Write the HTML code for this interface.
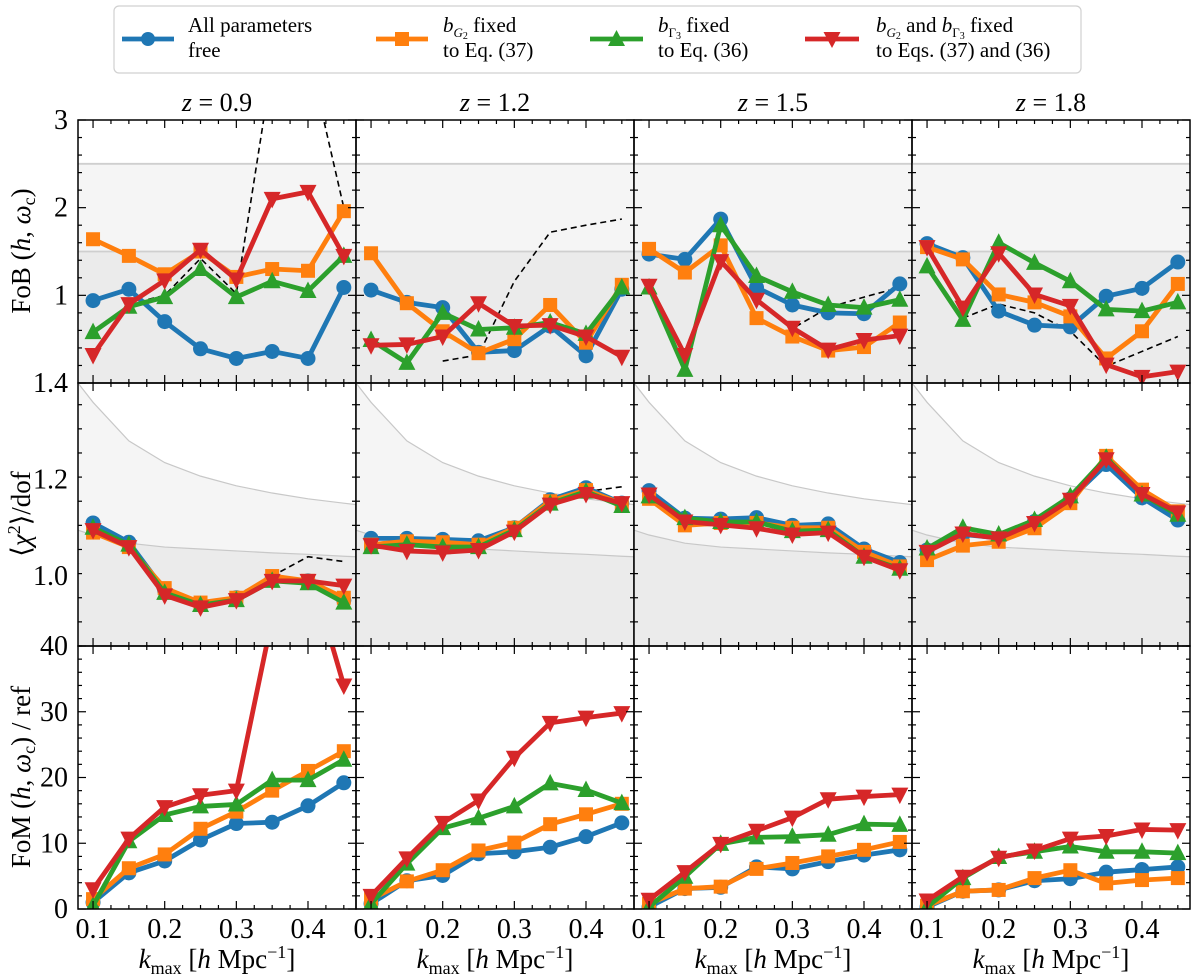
<!DOCTYPE html>
<html><head><meta charset="utf-8"><style>
html,body{margin:0;padding:0;background:#fff}
svg{display:block;font-family:"Liberation Serif",serif}
</style></head><body>
<svg id="chart" width="1200" height="976" viewBox="0 0 1200 976" xmlns="http://www.w3.org/2000/svg"></svg>
<script>
const kmax=[0.1,0.15,0.2,0.25,0.3,0.35,0.4,0.45];
const redshifts=["0.9","1.2","1.5","1.8"];
// FoB(h, omega_c) per redshift
const fobBlue=[[0.94,1.07,0.70,0.39,0.28,0.36,0.28,1.09],[1.06,0.92,0.86,0.35,0.37,0.65,0.31,1.07],[1.47,1.41,1.87,1.09,0.89,0.80,0.79,1.13],[1.59,1.43,0.82,0.66,0.64,0.99,1.08,1.38]];
const fobOrange=[[1.64,1.45,1.24,1.50,1.21,1.30,1.28,1.96],[1.48,0.91,0.59,0.34,0.50,0.89,0.46,1.12],[1.53,1.26,1.57,0.74,0.53,0.37,0.41,0.69],[1.55,1.41,1.01,0.92,0.76,0.28,0.59,1.13]];
const fobGreen=[[0.58,0.87,0.98,1.30,0.98,1.16,1.05,1.45],[0.49,0.23,0.80,0.61,0.63,0.69,0.56,1.09],[1.09,0.15,1.80,1.22,1.04,0.89,0.86,0.95],[1.33,0.72,1.60,1.37,1.16,0.84,0.82,0.92]];
const fobRed=[[0.32,0.90,1.17,1.52,1.18,2.10,2.18,1.45],[0.43,0.44,0.53,0.91,0.65,0.66,0.53,0.30],[1.11,0.32,1.39,0.95,0.63,0.38,0.49,0.54],[1.55,0.86,1.48,1.01,0.88,0.21,0.07,0.13]];
const fobDashed=[[null,0.90,1.00,1.42,1.02,3.62,3.78,2.00],[0.35,null,0.25,0.32,1.16,1.72,1.80,1.87],[null,null,null,0.95,0.62,0.86,0.98,1.09],[null,0.74,0.90,0.80,0.59,0.19,0.36,0.53]];
// <chi^2>/dof
const chiBlue=[[1.11,1.07,0.97,0.94,0.955,0.995,0.99,0.95],[1.078,1.078,1.076,1.073,1.10,1.158,1.183,1.151],[1.177,1.12,1.118,1.121,1.105,1.108,1.056,1.028],[1.054,1.086,1.079,1.113,1.16,1.231,1.162,1.116]];
const chiOrange=[[1.09,1.06,0.975,0.945,0.955,1.0,0.99,0.955],[1.065,1.072,1.07,1.065,1.10,1.155,1.178,1.15],[1.16,1.105,1.11,1.11,1.10,1.10,1.05,1.02],[1.033,1.063,1.071,1.099,1.151,1.249,1.179,1.134]];
const chiGreen=[[1.10,1.065,0.965,0.94,0.95,0.99,0.985,0.945],[1.06,1.065,1.06,1.06,1.095,1.15,1.175,1.145],[1.165,1.12,1.112,1.112,1.093,1.095,1.04,1.015],[1.057,1.10,1.086,1.116,1.165,1.245,1.169,1.127]];
const chiRed=[[1.095,1.06,0.96,0.935,0.95,0.99,0.99,0.98],[1.064,1.052,1.049,1.054,1.092,1.148,1.17,1.151],[1.169,1.113,1.106,1.099,1.086,1.09,1.04,1.012],[1.05,1.088,1.078,1.11,1.158,1.242,1.17,1.132]];
const chiDashed=[[null,null,null,null,0.96,1.0,1.04,1.03],[null,null,null,null,null,null,1.175,1.185],[null,1.105,1.105,null,null,null,null,null],[null,null,null,null,null,null,null,null]];
const bandK=[0.079,0.1,0.15,0.2,0.25,0.3,0.35,0.4,0.45,0.467];
const bandUpper=[1.40,1.36,1.28,1.235,1.207,1.187,1.172,1.16,1.151,1.148];
const bandLower=[1.095,1.085,1.068,1.06,1.056,1.052,1.048,1.045,1.041,1.040];
// FoM(h, omega_c)/ref
const fomBlue=[[1,5.5,7.3,10.5,13,13.2,15.7,19.2],[0.8,4.3,5.1,8.4,8.7,9.4,11,13.1],[0.3,3.1,3.3,6.4,6.1,7.2,8.2,9.0],[0.3,2.7,2.9,4.3,4.6,5.6,6.0,6.4]];
const fomOrange=[[1.5,6.2,8.3,12.2,14.8,18,21,24],[1.5,4.2,5.9,8.9,10.1,12.9,14.4,16],[0.8,3.1,3.4,6.1,7.0,8.0,9.0,10.2],[0.5,2.7,2.9,4.7,5.9,3.9,4.4,4.7]];
const fomGreen=[[0.5,10.3,14.3,15.6,15.9,19.6,19.6,22.7],[0.8,6.9,12.3,13.8,15.6,19.1,18.1,16.1],[0.3,4.9,9.9,10.9,11,11.3,12.9,12.8],[0.3,4.7,7.9,8.7,9.5,8.7,8.7,8.5]];
const fomRed=[[3,10.7,15.5,17.3,18,44.2,52.7,34],[2,7.7,13.1,16.5,23,28.3,29.1,29.8],[1.4,5.6,9.9,11.9,13.9,16.7,17.1,17.4],[1.3,4.9,7.8,8.9,10.7,11.1,12.1,12.0]];
const fobTicks=["3","2","1"];const fobTickVals=[3,2,1];
const chiTicks=["1.4","1.2","1.0"];const chiTickVals=[1.4,1.2,1.0];
const fomTicks=["40","30","20","10","0"];const fomTickVals=[40,30,20,10,0];
const xTicks=["0.1","0.2","0.3","0.4"];const xTickVals=[0.1,0.2,0.3,0.4];

const NS="http://www.w3.org/2000/svg";
const svg=document.getElementById('chart');
function mk(tag,attrs,parent){const e=document.createElementNS(NS,tag);for(const k in attrs)e.setAttribute(k,attrs[k]);(parent||svg).appendChild(e);return e;}
const colL=[78,356,634,912],W=278,rowT=[120,383,646],H=263;
const K0=0.079,K1=0.467;
const rows=[{lo:0,hi:3},{lo:0.855,hi:1.4},{lo:0,hi:40}];
function xs(k,c){return colL[c]+(k-K0)/(K1-K0)*W;}
function ys(v,r){const R=rows[r];return rowT[r]+(R.hi-v)/(R.hi-R.lo)*H;}
const COL={blue:"#1f77b4",orange:"#ff7f0e",green:"#2ca02c",red:"#d62728"};

const defs=mk('defs',{});
for(let r=0;r<3;r++)for(let c=0;c<4;c++){const cp=mk('clipPath',{id:`cp${r}${c}`},defs);mk('rect',{x:colL[c],y:rowT[r],width:W,height:H},cp);}

function marker(g,type,x,y,color){
  let e;
  if(type==='circle'){e=mk('circle',{cx:x,cy:y,r:7.5,fill:color},g);}
  else if(type==='square'){e=mk('rect',{x:x-7,y:y-7,width:14,height:14,fill:color},g);}
  else if(type==='up'){e=mk('polygon',{points:`${x},${y-9.5} ${x+8.5},${y+7} ${x-8.5},${y+7}`,fill:color},g);}
  else {e=mk('polygon',{points:`${x},${y+9.5} ${x+8.5},${y-7} ${x-8.5},${y-7}`,fill:color},g);}
  
  
}
function series(g,vals,r,c,color,type,name){
  const sg=mk('g',{},g);
  
  
  const pts=vals.map((v,i)=>`${xs(kmax[i],c)},${ys(v,r)}`).join(' ');
  mk('polyline',{points:pts,fill:'none',stroke:color,'stroke-width':4.8,'stroke-linejoin':'round'},sg);
  vals.forEach((v,i)=>marker(sg,type,xs(kmax[i],c),ys(v,r),color));
}
function dashed(g,vals,r,c){
  let seg=[];const segs=[];
  vals.forEach((v,i)=>{if(v===null){if(seg.length)segs.push(seg);seg=[];}else seg.push(`${xs(kmax[i],c)},${ys(v,r)}`);});
  if(seg.length)segs.push(seg);
  segs.forEach(s=>{if(s.length>1){const l=mk('polyline',{points:s.join(' '),fill:'none',stroke:'#000','stroke-width':1.6,'stroke-dasharray':'6,4'},g);
    
    }});
}

const rowNames=['fob','chi2','fom'];
for(let r=0;r<3;r++)for(let c=0;c<4;c++){
  const g=mk('g',{'clip-path':`url(#cp${r}${c})`});
  
  
  if(r===0){
    mk('rect',{x:colL[c],y:ys(1.5,0),width:W,height:ys(0,0)-ys(1.5,0),fill:'#ebebeb'},g);
    mk('rect',{x:colL[c],y:ys(2.5,0),width:W,height:ys(1.5,0)-ys(2.5,0),fill:'#f5f5f5'},g);
    mk('line',{x1:colL[c],x2:colL[c]+W,y1:ys(1.5,0),y2:ys(1.5,0),stroke:'#cfcfcf','stroke-width':1.8},g);
    mk('line',{x1:colL[c],x2:colL[c]+W,y1:ys(2.5,0),y2:ys(2.5,0),stroke:'#cfcfcf','stroke-width':1.8},g);
    dashed(g,fobDashed[c],0,c);
    series(g,fobBlue[c],0,c,COL.blue,'circle','series-all-free');
    series(g,fobOrange[c],0,c,COL.orange,'square','series-bg2-fixed');
    series(g,fobGreen[c],0,c,COL.green,'up','series-bgamma3-fixed');
    series(g,fobRed[c],0,c,COL.red,'down','series-both-fixed');
  } else if(r===1){
    const up=bandK.map((k,i)=>`${xs(k,c)},${ys(bandUpper[i],1)}`);
    const lo=bandK.map((k,i)=>`${xs(k,c)},${ys(bandLower[i],1)}`);
    const bot=ys(0.855,1);
    mk('polygon',{points:lo.join(' ')+` ${xs(K1,c)},${bot} ${xs(K0,c)},${bot}`,fill:'#ebebeb'},g);
    mk('polygon',{points:up.join(' ')+' '+lo.slice().reverse().join(' '),fill:'#f5f5f5'},g);
    mk('polyline',{points:up.join(' '),fill:'none',stroke:'#c8c8c8','stroke-width':1.2},g);
    mk('polyline',{points:lo.join(' '),fill:'none',stroke:'#c8c8c8','stroke-width':1.2},g);
    dashed(g,chiDashed[c],1,c);
    series(g,chiBlue[c],1,c,COL.blue,'circle','series-all-free');
    series(g,chiOrange[c],1,c,COL.orange,'square','series-bg2-fixed');
    series(g,chiGreen[c],1,c,COL.green,'up','series-bgamma3-fixed');
    series(g,chiRed[c],1,c,COL.red,'down','series-both-fixed');
  } else {
    series(g,fomBlue[c],2,c,COL.blue,'circle','series-all-free');
    series(g,fomOrange[c],2,c,COL.orange,'square','series-bg2-fixed');
    series(g,fomGreen[c],2,c,COL.green,'up','series-bgamma3-fixed');
    series(g,fomRed[c],2,c,COL.red,'down','series-both-fixed');
  }
  const tg=mk('g',{stroke:'#000','stroke-width':1.2});
  
  
  const x0=colL[c],x1=colL[c]+W,y0=rowT[r],y1=rowT[r]+H;
  for(let k=0.1;k<K1;k+=0.025){const kk=Math.round(k*1000)/1000;const X=xs(kk,c);const L=(Math.abs(kk*10-Math.round(kk*10))<1e-6)?8:4;
    mk('line',{x1:X,x2:X,y1:y1,y2:y1-L},tg);mk('line',{x1:X,x2:X,y1:y0,y2:y0+L},tg);}
  let minorStep,majorStep;const R=rows[r];
  if(r===0){minorStep=0.2;majorStep=1;}else if(r===1){minorStep=0.05;majorStep=0.2;}else{minorStep=2;majorStep=10;}
  for(let v=R.lo;v<=R.hi+1e-9;v+=minorStep){const vv=Math.round(v*1000)/1000;const Y=ys(vv,r);
    const isMaj=Math.abs(vv/majorStep-Math.round(vv/majorStep))<1e-6;const L=isMaj?8:4;
    mk('line',{x1:x0,x2:x0+L,y1:Y,y2:Y},tg);mk('line',{x1:x1,x2:x1-L,y1:Y,y2:Y},tg);}
  const fr=mk('rect',{x:x0,y:y0,width:W,height:H,fill:'none',stroke:'#000','stroke-width':1.5});
  
  
}
function ylab(labels,vals,r){vals.forEach((v,i)=>{const t=mk('text',{x:68,y:ys(v,r)+9,'text-anchor':'end','font-size':28},svg);t.textContent=labels[i];
  
  });}
ylab(fobTicks,fobTickVals,0);ylab(chiTicks,chiTickVals,1);ylab(fomTicks,fomTickVals,2);
for(let c=0;c<4;c++){xTickVals.forEach((v,i)=>{const t=mk('text',{x:xs(v,c),y:938,'text-anchor':'middle','font-size':28},svg);t.textContent=xTicks[i];
  
  });
  const xl=mk('text',{x:colL[c]+W/2,y:968,'text-anchor':'middle','font-size':27},svg);
  xl.innerHTML='<tspan font-style="italic">k</tspan><tspan font-size="18" dy="6">max</tspan><tspan dy="-6"> [</tspan><tspan font-style="italic">h</tspan> Mpc<tspan font-size="18" dy="-10">−1</tspan><tspan dy="10">]</tspan>';
  
  
  const tt=mk('text',{x:colL[c]+W/2,y:111,'text-anchor':'middle','font-size':26},svg);
  tt.innerHTML='<tspan font-style="italic">z</tspan> = '+redshifts[c];
  
  
}
</script>
<svg style="position:absolute;left:0;top:0" width="1200" height="976" font-family="Liberation Serif, serif">
  <text transform="translate(30,251) rotate(-90)" text-anchor="middle" font-size="27">FoB (<tspan font-style="italic">h</tspan>, <tspan font-style="italic">ω</tspan><tspan font-size="18" dy="5">c</tspan><tspan dy="-5">)</tspan></text>
  <text transform="translate(30,514) rotate(-90)" text-anchor="middle" font-size="27">⟨<tspan font-style="italic">χ</tspan><tspan font-size="18" dy="-10">2</tspan><tspan dy="10">⟩/dof</tspan></text>
  <text transform="translate(30,777) rotate(-90)" text-anchor="middle" font-size="27">FoM (<tspan font-style="italic">h</tspan>, <tspan font-style="italic">ω</tspan><tspan font-size="18" dy="5">c</tspan><tspan dy="-5">) / ref</tspan></text>
  <g>
    <rect x="114" y="6" width="967" height="67" rx="5" fill="#fff" stroke="#d0d0d0" stroke-width="1.2"/>
    <g>
      <line x1="122" x2="174" y1="39" y2="39" stroke="#1f77b4" stroke-width="4.8"/><circle cx="148" cy="39" r="7" fill="#1f77b4"/>
      <text x="188" y="32" font-size="21">All parameters</text><text x="188" y="57" font-size="21">free</text>
    </g>
    <g>
      <line x1="376" x2="428" y1="39" y2="39" stroke="#ff7f0e" stroke-width="4.8"/><rect x="395" y="32" width="14" height="14" fill="#ff7f0e"/>
      <text x="443" y="32" font-size="21"><tspan font-style="italic">b</tspan><tspan font-size="13" dy="5" font-style="italic">G</tspan><tspan font-size="10" dy="2">2</tspan><tspan dy="-7"> fixed</tspan></text><text x="443" y="57" font-size="21">to Eq. (37)</text>
    </g>
    <g>
      <line x1="590" x2="643" y1="39" y2="39" stroke="#2ca02c" stroke-width="4.8"/><polygon points="616.5,30 625,46 608,46" fill="#2ca02c"/>
      <text x="658" y="32" font-size="21"><tspan font-style="italic">b</tspan><tspan font-size="13" dy="5">Γ</tspan><tspan font-size="10" dy="2">3</tspan><tspan dy="-7"> fixed</tspan></text><text x="658" y="57" font-size="21">to Eq. (36)</text>
    </g>
    <g>
      <line x1="805" x2="859" y1="39" y2="39" stroke="#d62728" stroke-width="4.8"/><polygon points="832,48 840.5,32 823.5,32" fill="#d62728"/>
      <text x="876" y="32" font-size="21"><tspan font-style="italic">b</tspan><tspan font-size="13" dy="5" font-style="italic">G</tspan><tspan font-size="10" dy="2">2</tspan><tspan dy="-7"> and </tspan><tspan font-style="italic">b</tspan><tspan font-size="13" dy="5">Γ</tspan><tspan font-size="10" dy="2">3</tspan><tspan dy="-7"> fixed</tspan></text><text x="876" y="57" font-size="21">to Eqs. (37) and (36)</text>
    </g>
  </g>
</svg>
</body></html>
